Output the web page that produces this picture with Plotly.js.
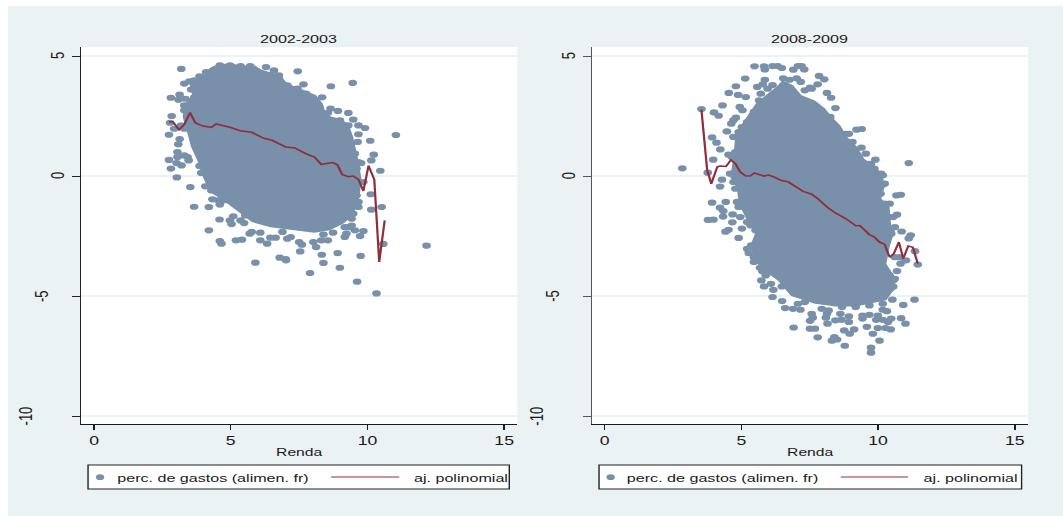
<!DOCTYPE html>
<html>
<head>
<meta charset="utf-8">
<script src="https://cdn.plot.ly/plotly-3.0.1.min.js"></script>
<style>
html,body{margin:0;padding:0;background:#fff;width:1063px;height:516px;overflow:hidden}
#chart{position:absolute;left:8px;top:6px;transform-origin:0 0}
</style>
</head>
<body>
<div id="chart"></div>
<script>
const panelTitles = ["2002-2003", "2008-2009"];
const xAxisTitle = "Renda";
const scatterName = "perc. de gastos (alimen. fr)";
const fitName = "aj. polinomial";
const xTicks = [0, 5, 10, 15];
const yTicks = [5, 0, -5, -10];

// 2002-2003: individual points visible round the dense cloud
const renda2002 = [3.19,7.45,7.66,8.66,9.46,8.34,2.81,3.13,2.84,2.78,2.74,3.13,3.08,3.05,2.74,2.81,3.03,3.52,3.66,4.2,4.59,4.2,4.6,4.66,5.19,5.41,11.04,10.1,10.23,10.14,10.47,10.12,10.14,10.52,10.58,12.16,9.75,8.91,8.33,7.54,6.79,7.01,5.9,7.02,8.39,8.99,7.9,9.62,10.33,
3.30,3.49,3.67,3.86,4.10,3.55,3.67,3.09,3.34,3.61,3.30,3.30,3.42,3.18,2.93,3.30,3.42,3.30,3.05,3.02,3.20,3.46,3.86,3.98,3.92,4.07,4.29,4.47,4.33,4.54,4.60,4.78,5.09,4.97,5.03,5.36,5.53,5.49,5.69,5.77,6.08,6.08,6.33,6.45,6.64,6.89,7.07,7.19,7.50,7.60,8.02,8.31,8.55,8.39,8.12,8.74,9.17,9.30,9.23,9.17,9.54,9.85,9.73,9.42,9.48,9.42,9.67,9.60,9.67,9.30,9.42,9.85,9.67,9.77,9.60,9.54,9.42,9.64,9.67,9.91,9.67,9.48,9.30,8.92,8.65,8.55,8.99,9.30,8.24,8.00,7.75,7.44,7.07,6.76,6.58,6.29,5.71,5.36,4.97,4.60,6.45,6.76];
const gasto2002 = [4.46,4.36,3.82,3.74,3.88,3.28,3.26,3.39,2.5,2.22,1.72,1.54,1.32,1.0,0.67,0.31,-0.06,-0.46,-1.28,-1.29,-1.81,-2.26,-2.71,-2.82,-2.68,-2.65,1.71,1.47,0.89,0.65,0.22,-0.76,-1.4,-1.29,-2.83,-2.9,-3.33,-3.21,-3.28,-3.14,-3.4,-3.46,-3.61,-3.51,-3.62,-3.82,-4.04,-4.4,-4.89,
3.85,3.94,3.99,4.15,4.33,3.60,3.29,3.18,3.22,3.15,2.94,2.74,2.53,2.11,1.97,1.97,0.79,0.86,0.79,0.54,0.44,0.65,0.42,0.38,0.13,-0.43,-0.60,-0.60,-0.97,-1.01,-1.19,-1.01,-1.68,-1.85,-2.00,-1.85,-1.64,-1.96,-2.40,-2.33,-2.36,-2.68,-2.82,-2.57,-2.57,-2.33,-2.61,-2.54,-2.75,-2.86,-2.75,-2.68,-2.68,-2.44,-2.96,-2.36,-2.13,-2.13,-2.40,-2.54,-2.26,-2.29,-2.50,-2.06,-1.57,-1.78,-1.08,-0.81,-1.29,-1.36,-1.18,-0.25,0.58,0.54,0.31,0.93,0.93,1.42,1.74,2.00,2.11,2.35,2.63,2.71,2.81,2.63,2.32,2.11,2.81,3.26,3.43,3.64,3.78,4.06,4.40,4.54,4.58,4.58,4.61,4.61,4.19,4.19];
// 2002-2003: outline of the solid part of the cloud
const coreRenda2002 = [4.29,4.60,5.09,5.46,5.77,6.14,6.82,7.07,7.56,8.12,8.37,8.49,8.99,9.30,9.48,9.60,9.67,9.79,9.67,9.42,9.11,8.62,8.06,7.32,6.45,5.77,5.22,4.72,4.23,3.98,3.86,3.73,3.55,3.42,3.24,3.30,3.61,3.49,3.98];
const coreGasto2002 = [4.54,4.68,4.68,4.57,4.68,4.43,4.19,3.85,3.64,3.36,3.01,2.53,2.39,2.18,1.63,1.07,0.65,-0.18,-1.15,-1.71,-1.99,-2.26,-2.36,-2.26,-2.13,-1.92,-1.43,-1.01,-0.67,-0.04,0.44,0.79,1.21,1.76,2.46,3.01,3.29,3.85,4.26];
const fitX2002 = [2.74,2.89,3.11,3.30,3.51,3.71,3.98,4.29,4.47,4.72,5.03,5.34,5.77,6.21,6.51,7.01,7.34,7.75,8.06,8.31,8.74,8.90,9.07,9.30,9.48,9.67,9.85,10.04,10.25,10.43,10.63];
const fitY2002 = [2.26,2.25,1.93,2.15,2.64,2.21,2.08,2.03,2.17,2.11,2.01,1.89,1.82,1.57,1.49,1.21,1.17,0.93,0.79,0.49,0.56,0.47,0.07,-0.03,0.00,-0.14,-0.62,0.43,-0.15,-3.58,-1.85];

// 2008-2009
const renda2008 = [2.84,3.54,4.00,4.17,4.31,4.54,4.80,4.88,5.16,5.14,5.48,5.83,5.86,6.14,6.48,6.90,7.07,7.30,7.20,6.33,7.84,8.03,7.79,5.86,5.58,5.78,6.14,6.53,6.76,7.02,7.17,7.51,8.13,8.28,8.44,4.94,5.04,4.80,4.63,4.47,3.93,4.09,4.23,4.53,3.97,3.77,4.29,4.22,3.93,4.43,4.22,4.34,4.33,3.78,3.98,4.68,4.67,4.53,4.42,5.02,4.90,5.36,5.27,5.86,11.12,10.67,10.83,10.69,10.55,10.86,11.19,11.12,11.35,9.40,9.21,8.81,9.06,9.39,9.55,9.90,9.74,10.17,10.17,10.09,
11.45,11.33,10.92,11.0,10.84,10.48,10.52,10.46,10.27,10.36,9.99,9.81,10.05,9.74,9.74,9.59,9.12,8.96,8.76,8.78,8.50,8.31,8.40,7.79,7.51,7.69,6.91,8.15,7.51,7.61,7.57,8.09,8.13,8.44,8.66,8.62,8.93,8.93,9.43,9.43,9.68,9.99,9.93,10.17,10.17,10.32,7.16,6.89,6.60,6.49,6.14,5.83,5.73,6.17,5.46,5.68,5.77,6.14,6.48,10.45,10.55,10.42,10.69,10.82,11.02,
4.71,5.02,4.90,4.71,4.78,4.65,4.59,4.71,4.78,4.84,4.90,4.96,5.21,5.34,5.52,5.21,5.46,5.71,9.68,9.86,10.11,10.24,10.24,10.42,10.42,10.61,10.48,10.61,10.79,8.93,8.68,8.44,8.06,8.25,7.57,7.32,5.96,5.71,5.65,5.46,5.21,7.07,7.32,7.94,8.19,8.68,9.18,9.68,10.17,10.55,10.61,6.08,5.89];
const gasto2008 = [0.32,2.79,2.65,2.51,2.94,3.46,3.74,3.38,3.29,4.06,4.57,4.57,4.44,4.58,4.50,4.43,4.58,4.44,4.58,4.58,4.17,4.03,3.82,4.01,3.71,3.82,3.79,4.07,4.01,4.07,3.92,3.68,3.46,3.26,2.83,2.88,2.74,2.43,2.18,1.86,1.61,1.39,1.11,0.89,0.68,0.14,-0.15,-0.44,-1.11,-1.08,-1.32,-1.46,-1.69,-1.83,-1.82,-1.60,-1.93,-2.24,-2.32,-2.19,-2.58,-2.89,-3.21,-2.99,0.54,-0.81,-0.78,-1.61,-1.71,-2.31,-2.47,-2.60,-3.13,1.96,1.93,1.76,1.42,1.18,0.93,0.68,0.51,0.03,-0.35,-0.74,
-3.69,-5.15,-5.37,-6.15,-5.92,-5.94,-5.15,-6.39,-6.33,-6.08,-6.33,-6.57,-6.86,-7.15,-7.36,-6.28,-6.39,-6.57,-6.43,-7.07,-6.81,-6.86,-6.71,-6.72,-6.36,-6.36,-6.31,-6.15,-6.03,-5.90,-5.74,-5.90,-5.74,-6.01,-5.99,-5.74,-6.08,-5.85,-5.94,-5.81,-5.78,-5.81,-5.99,-5.99,-5.57,-5.63,-5.57,-5.53,-5.50,-5.21,-5.04,-4.60,-4.35,-4.74,-3.58,-3.82,-3.97,-3.93,-4.60,-4.69,-4.35,-4.14,-3.96,-3.65,-3.51,
2.32,2.04,1.83,1.63,1.0,0.79,0.10,-0.25,-0.53,-1.08,-1.29,-1.71,-1.92,-2.06,-2.26,-3.03,-3.38,-3.38,0.51,0.31,0.10,-0.32,-1.15,-1.15,-1.71,-2.13,-2.40,-3.38,-3.38,1.76,1.69,2.04,2.53,2.46,3.64,3.57,3.64,3.43,3.15,2.67,2.25,-5.32,-5.25,-5.53,-5.60,-5.46,-5.46,-5.39,-5.32,-4.61,-4.28,-4.49,-4.14];
const coreRenda2008 = [6.51,6.89,7.20,7.69,8.06,8.31,8.62,8.87,9.24,9.49,9.93,10.17,10.24,10.11,10.42,10.48,10.61,10.42,10.30,10.61,10.61,10.30,9.18,8.44,7.69,6.82,6.33,5.89,5.58,5.30,5.50,5.21,4.90,4.84,4.59,4.71,4.78,5.21,5.52,5.96,6.27];
const coreGasto2008 = [3.99,3.78,3.36,3.15,2.81,2.46,2.11,1.63,1.21,0.72,0.38,0.03,-0.46,-0.94,-1.29,-2.13,-2.26,-2.96,-3.65,-4.21,-4.69,-5.18,-5.43,-5.43,-5.32,-5.0,-4.35,-4.0,-3.65,-2.96,-2.40,-1.85,-1.15,-0.53,-0.04,0.79,1.76,2.46,3.01,3.43,3.71];
const fitX2008 = [3.54,3.75,3.90,4.12,4.22,4.44,4.62,4.78,4.96,5.15,5.31,5.48,5.83,5.99,6.20,6.45,6.72,7.26,7.57,7.82,8.13,8.44,8.83,9.18,9.33,9.68,9.86,10.05,10.24,10.42,10.57,10.76,10.92,11.10,11.27,11.45];
const fitY2008 = [2.76,0.24,-0.32,0.38,0.42,0.40,0.67,0.51,0.17,0.01,0,0.13,0,0.04,-0.04,-0.18,-0.25,-0.64,-0.76,-0.97,-1.29,-1.54,-1.78,-2.07,-2.06,-2.44,-2.54,-2.75,-2.85,-3.38,-3.24,-2.75,-3.44,-2.92,-2.97,-3.65];

// Page geometry: the reference is a horizontally stretched picture
const STRETCH = 1.4, PAGE_W = 1055, PAGE_H = 510, OFF_X = 8, OFF_Y = 6;
const fx = px => (px - OFF_X) / PAGE_W;
const fy = py => 1 - (py - OFF_Y) / PAGE_H;
const BLUE = "#7890a9", RED = "#8f2f3c", INK = "#1a1a1a";
const FONT = "Liberation Sans, Arial, sans-serif";

function cloud(xa, ya, cx, cy, px, py, fitx, fity) {
  return [
    {type:"scatter", mode:"lines", x:cx, y:cy, xaxis:xa, yaxis:ya, fill:"toself", fillcolor:BLUE, line:{width:0,color:BLUE}, hoverinfo:"skip", showlegend:false},
    {type:"scatter", mode:"markers", name:scatterName, x:px, y:py, xaxis:xa, yaxis:ya, marker:{color:BLUE,size:6.2,line:{width:0}}, showlegend:false},
    {type:"scatter", mode:"lines", name:fitName, x:fitx, y:fity, xaxis:xa, yaxis:ya, line:{color:RED,width:1.6}, showlegend:false}
  ];
}
const traces = cloud("x","y",coreRenda2002,coreGasto2002,renda2002,gasto2002,fitX2002,fitY2002)
  .concat(cloud("x2","y2",coreRenda2008,coreGasto2008,renda2008,gasto2008,fitX2008,fitY2008));

function xAxis(dom, range, anchor) {
  return {domain:dom, range:range, anchor:anchor, tickmode:"array", tickvals:xTicks, ticks:"outside", ticklen:5, tickwidth:1, tickcolor:INK,
    showgrid:false, zeroline:false, showline:true, linecolor:INK, linewidth:1,
    tickfont:{family:FONT,size:12.6,color:INK}, title:{text:xAxisTitle,font:{family:FONT,size:11.2,color:INK},standoff:1}, automargin:false};
}
function yAxis(anchor, lineCol) {
  return {domain:[fy(424), fy(47)], range:[-10.33,5.375], anchor:anchor, tickmode:"array", tickvals:yTicks, ticks:"outside", ticklen:5.7, tickwidth:1, tickcolor:lineCol,
    showgrid:true, gridcolor:"#eaf2f3", gridwidth:1.5, zeroline:false, showline:true, linecolor:lineCol, linewidth:1, showticklabels:false, automargin:false};
}

const annotations = [], shapes = [];
function panelText(title, cx) {
  annotations.push({text:title, xref:"paper", yref:"paper", x:fx(cx), y:fy(39), xanchor:"center", yanchor:"middle", showarrow:false, font:{family:FONT,size:11.5,color:INK}});
}
function yLabels(yref, xs) {
  yTicks.forEach((v,i) => annotations.push({text:String(v), xref:"paper", yref:yref, x:fx(xs[i]), y:v, xanchor:"center", yanchor:"middle", textangle:-90, showarrow:false, font:{family:FONT,size:13,color:INK}}));
}
function legendBox(x0, x1, mx, tx1, l0, l1, tx2) {
  shapes.push({type:"rect", xref:"paper", yref:"paper", x0:fx(x0), x1:fx(x1), y0:fy(489), y1:fy(465), fillcolor:"#fff", line:{color:"#222",width:1}, layer:"above"});
  shapes.push({type:"circle", xref:"paper", yref:"paper", x0:fx(mx-4.1), x1:fx(mx+4.1), y0:fy(480), y1:fy(474.3), fillcolor:BLUE, line:{width:0}, layer:"above"});
  shapes.push({type:"line", xref:"paper", yref:"paper", x0:fx(l0), x1:fx(l1), y0:fy(477), y1:fy(477), line:{color:RED,width:1}, layer:"above"});
  [[scatterName,tx1],[fitName,tx2]].forEach(e => annotations.push({text:e[0], xref:"paper", yref:"paper", x:fx(e[1]), y:fy(478), xanchor:"left", yanchor:"middle", xshift:-2.2, showarrow:false, font:{family:FONT,size:11.5,color:INK}}));
}
panelText(panelTitles[0], 299);
panelText(panelTitles[1], 809.7);
yLabels("y", [57,57,41.5,25.3]);
yLabels("y2", [568,568,552,536.3]);
legendBox(88,509,100,117.6,331,399,414);
legendBox(598.7,1021,610.3,627.3,840.3,907.6,922.8);

const layout = {
  width: PAGE_W / STRETCH, height: PAGE_H,
  margin:{l:0,r:0,t:0,b:0,pad:0},
  paper_bgcolor:"#eaf2f3", plot_bgcolor:"#ffffff", showlegend:false,
  xaxis: xAxis([fx(81), fx(517)], [-0.476,15.48], "y"),
  yaxis: yAxis("x", "#222"),
  xaxis2: xAxis([fx(591.7), fx(1027.7)], [-0.46,15.49], "y2"),
  yaxis2: yAxis("x2", "#555"),
  annotations, shapes
};
document.getElementById("chart").style.transform = "scale(" + STRETCH + ",1)";
Plotly.newPlot("chart", traces, layout, {displayModeBar:false, staticPlot:true, responsive:false});
</script>
</body>
</html>
